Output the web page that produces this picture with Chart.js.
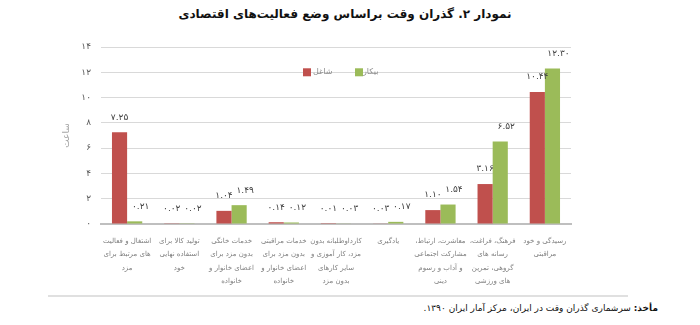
<!DOCTYPE html>
<html lang="fa">
<head>
<meta charset="utf-8">
<script src="https://cdn.jsdelivr.net/npm/chart.js@4"></script>
<style>
  body { margin: 0; background: #fff; width: 700px; height: 325px; overflow: hidden; position: relative; font-family: 'DejaVu Sans', sans-serif; }
  #title { position: absolute; top: 7px; left: 0; width: 690px; text-align: center; font-weight: bold; font-size: 12px; direction: rtl; color: #111; }
  #wrap { position: absolute; top: 30px; left: 0; width: 700px; height: 264px; }
  #rule { position: absolute; top: 295px; left: 48px; width: 580px; border-top: 2px solid #e0e0e0; }
  #source { position: absolute; top: 303px; right: 42px; font-size: 9px; direction: rtl; color: #111; }
</style>
</head>
<body>
<div id="title">نمودار ۲. گذران وقت براساس وضع فعالیت‌های اقتصادی</div>
<div id="wrap"><canvas id="chart" width="700" height="264" dir="rtl"></canvas></div>
<div id="rule"></div>
<div id="source"><b>مأخذ:</b> سرشماری گذران وقت در ایران، مرکز آمار ایران ۱۳۹۰.</div>
<script>
// activity groups, left to right
const categories = [
  ['اشتغال و فعالیت', 'های مرتبط برای', 'مزد'],
  ['تولید کالا برای', 'استفاده نهایی', 'خود'],
  ['خدمات خانگی', 'بدون مزد برای', 'اعضای خانوار و', 'خانواده'],
  ['خدمات مراقبتی', 'بدون مزد برای', 'اعضای خانوار و', 'خانواده'],
  ['کارداوطلبانه بدون', 'مزد، کار آموزی و', 'سایر کارهای', 'بدون مزد'],
  ['یادگیری'],
  ['معاشرت، ارتباط،', 'مشارکت اجتماعی', 'و آداب و رسوم', 'دینی'],
  ['فرهنگ، فراغت،', 'رسانه های', 'گروهی، تمرین', 'های ورزشی'],
  ['رسیدگی و خود', 'مراقبتی'],
];

// hours per day
const employed = [7.25, 0.02, 1.04, 0.14, 0.01, 0.03, 1.10, 3.16, 10.44];
const unemployed = [0.21, 0.02, 1.49, 0.12, 0.03, 0.17, 1.54, 6.52, 12.30];

const seriesNames = ['شاغل', 'بیکار'];
const seriesColors = ['#c0504d', '#9bbb59'];

const yMin = 0;
const yMax = 14;
const yStep = 2;
const yTitle = 'ساعت';
const legendLevel = 12;

const FONT = "'DejaVu Sans', sans-serif";

function faDigits(s) {
  return String(s).replace(/[0-9]/g, d => '۰۱۲۳۴۵۶۷۸۹'[d]);
}

// value above each bar
const valueLabels = {
  id: 'valueLabels',
  afterDatasetsDraw(chart) {
    const ctx = chart.ctx;
    ctx.save();
    ctx.font = '9px ' + FONT;
    ctx.fillStyle = '#404040';
    ctx.textAlign = 'center';
    ctx.textBaseline = 'middle';
    chart.data.datasets.forEach((ds, i) => {
      chart.getDatasetMeta(i).data.forEach((bar, j) => {
        ctx.fillText(faDigits(ds.data[j].toFixed(2)), bar.x + (i ? 6 : 0), bar.y - 15);
      });
    });
    ctx.restore();
  },
};

// legend sitting on the 12-hour gridline
const inlineLegend = {
  id: 'inlineLegend',
  afterDraw(chart) {
    const ctx = chart.ctx;
    const y = chart.scales.y.getPixelForValue(legendLevel);
    const cx = (chart.chartArea.left + chart.chartArea.right) / 2;
    const items = [
      { box: cx - 33, text: cx - 23 },
      { box: cx + 19, text: cx + 27 },
    ];
    ctx.save();
    ctx.font = '8px ' + FONT;
    ctx.textAlign = 'left';
    ctx.textBaseline = 'middle';
    chart.data.datasets.forEach((ds, i) => {
      ctx.fillStyle = ds.backgroundColor;
      ctx.fillRect(items[i].box, y - 4, 8, 8);
      ctx.fillStyle = '#8c8c8c';
      ctx.fillText(ds.label, items[i].text, y);
    });
    ctx.restore();
  },
};

new Chart(document.getElementById('chart'), {
  type: 'bar',
  data: {
    labels: categories,
    datasets: [
      { label: seriesNames[0], data: employed, backgroundColor: seriesColors[0] },
      { label: seriesNames[1], data: unemployed, backgroundColor: seriesColors[1] },
    ],
  },
  options: {
    responsive: false,
    animation: false,
    devicePixelRatio: 1,
    events: [],
    categoryPercentage: 0.58,
    barPercentage: 1,
    layout: { padding: { top: 17, right: 129, left: 0, bottom: 0 } },
    plugins: {
      legend: { display: false },
      tooltip: { enabled: false },
    },
    scales: {
      x: {
        grid: { display: false, drawTicks: false },
        border: { color: '#bfbfbf', width: 2 },
        ticks: {
          autoSkip: false,
          maxRotation: 0,
          padding: 10,
          color: '#7f7f7f',
          font: { family: FONT, size: 7, lineHeight: 1.93 },
        },
        afterFit: s => { s.height = 70; },
      },
      y: {
        min: yMin,
        max: yMax,
        grid: { color: '#d9d9d9', drawTicks: false },
        border: { display: false },
        ticks: {
          stepSize: yStep,
          padding: 10,
          color: '#595959',
          font: { family: FONT, size: 9 },
          callback: v => faDigits(v),
        },
        title: {
          display: true,
          text: yTitle,
          color: '#a6a6a6',
          font: { family: FONT, size: 9 },
          padding: { top: 61, bottom: 0 },
        },
        afterFit: s => { s.width = 101; },
      },
    },
  },
  plugins: [valueLabels, inlineLegend],
});
</script>
</body>
</html>
